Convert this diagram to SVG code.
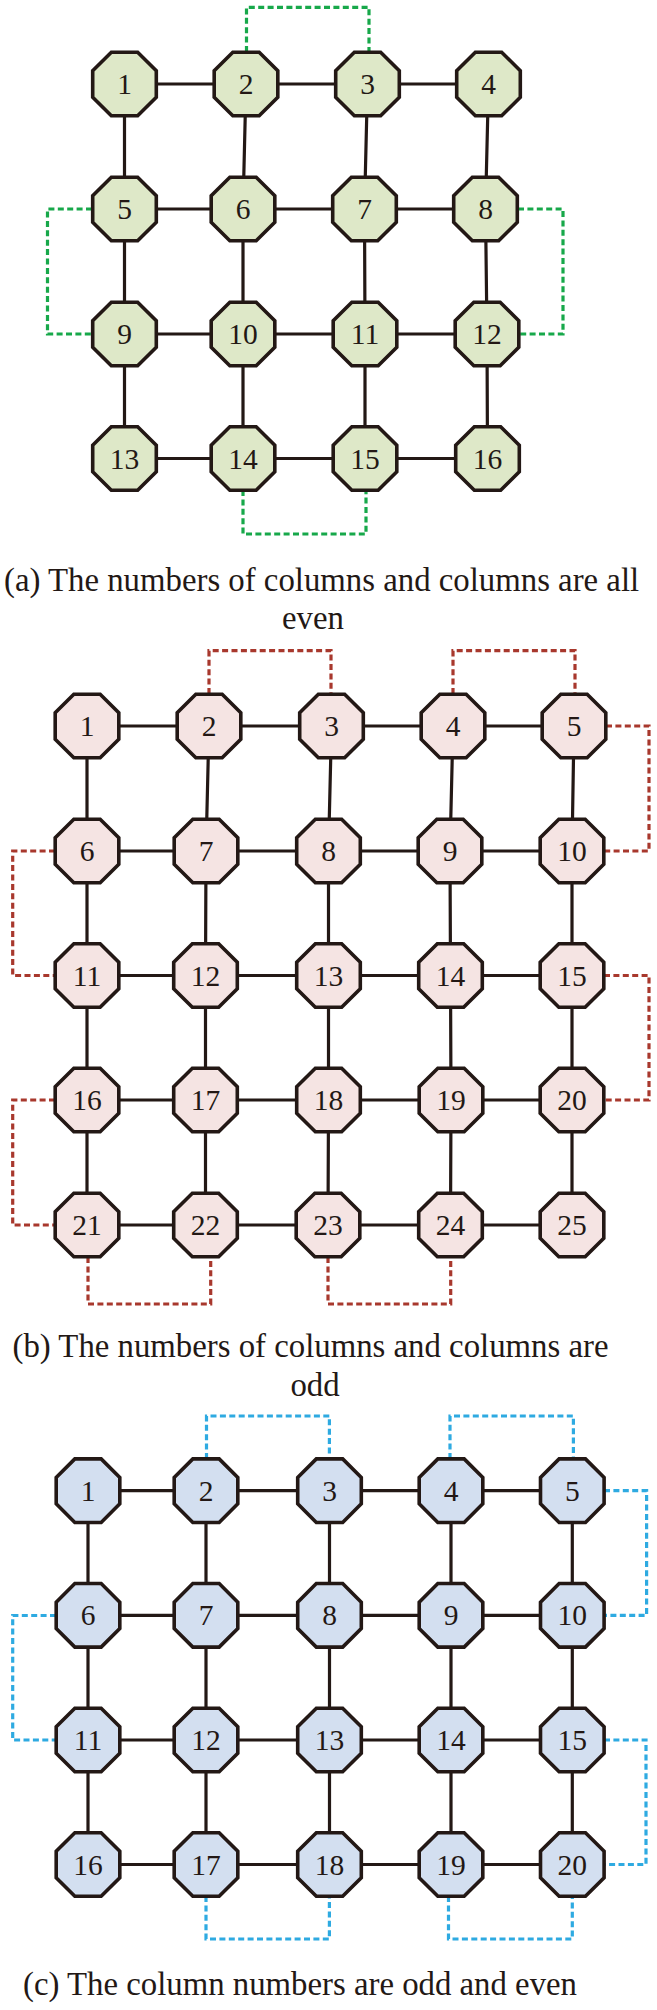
<svg xmlns="http://www.w3.org/2000/svg" xmlns:xlink="http://www.w3.org/1999/xlink" width="657" height="2010" viewBox="0 0 657 2010">
<style>
.n text{font-family:"Liberation Serif","Times New Roman",serif;font-size:29.5px;fill:#231815;text-anchor:middle}
.n use{stroke:#231815;stroke-width:3.6;stroke-linejoin:miter}
.ga use{fill:#dee8c8}
.gb use{fill:#f5e4e3}
.gc use{fill:#d3dff0}
.solid{fill:none;stroke:#231815;stroke-width:3.2}
.dash{fill:none;stroke-width:3.2;stroke-dasharray:6 3.4}
.dg{stroke:#17a84a}
.dr{stroke:#a8382d}
.db{stroke:#2eaae1}
.cap{font-family:"Liberation Serif","Times New Roman",serif;font-size:32.8px;fill:#231815}
</style>
<defs>
<polygon id="oct" points="-13.17,-31.8 13.17,-31.8 31.8,-13.17 31.8,13.17 13.17,31.8 -13.17,31.8 -31.8,13.17 -31.8,-13.17"/>
</defs>
<rect width="657" height="2010" fill="#ffffff"/>
<g id="connectors">
<g class="solid">
<polyline points="124.5,84 246,84 367.5,84 488.5,84"/>
<polyline points="124.5,209 243,209 364.5,209 485.5,209"/>
<polyline points="124.5,334 243,334 365,334 487,334"/>
<polyline points="124.5,458.5 243,458.5 365,458.5 487.5,458.5"/>
<polyline points="124.5,84 124.5,209 124.5,334 124.5,458.5"/>
<polyline points="246,84 243,209 243,334 243,458.5"/>
<polyline points="367.5,84 364.5,209 365,334 365,458.5"/>
<polyline points="488.5,84 485.5,209 487,334 487.5,458.5"/>
<polyline points="87,726 209,726 331.5,726 453,726 574,726"/>
<polyline points="87,851 206,851 328.5,851 450,851 572,851"/>
<polyline points="87,975.5 205.5,975.5 328.5,975.5 450.5,975.5 572,975.5"/>
<polyline points="87,1100 205.5,1100 328.5,1100 451,1100 572,1100"/>
<polyline points="87,1225 205.5,1225 328,1225 450.5,1225 572,1225"/>
<polyline points="87,726 87,851 87,975.5 87,1100 87,1225"/>
<polyline points="209,726 206,851 205.5,975.5 205.5,1100 205.5,1225"/>
<polyline points="331.5,726 328.5,851 328.5,975.5 328.5,1100 328,1225"/>
<polyline points="453,726 450,851 450.5,975.5 451,1100 450.5,1225"/>
<polyline points="574,726 572,851 572,975.5 572,1100 572,1225"/>
<polyline points="88,1490.7 206,1490.7 329.5,1490.7 451,1490.7 572.3,1490.7"/>
<polyline points="88,1615.3 206,1615.3 329.5,1615.3 451,1615.3 572.3,1615.3"/>
<polyline points="88,1740 206,1740 329.5,1740 451,1740 572.3,1740"/>
<polyline points="88,1864.5 206,1864.5 329.5,1864.5 451,1864.5 572.3,1864.5"/>
<polyline points="88,1490.7 88,1615.3 88,1740 88,1864.5"/>
<polyline points="206,1490.7 206,1615.3 206,1740 206,1864.5"/>
<polyline points="329.5,1490.7 329.5,1615.3 329.5,1740 329.5,1864.5"/>
<polyline points="451,1490.7 451,1615.3 451,1740 451,1864.5"/>
<polyline points="572.3,1490.7 572.3,1615.3 572.3,1740 572.3,1864.5"/>
</g>
<g class="dash dg">
<polyline points="246.5,52 246.5,7.3 369,7.3 369,52"/>
<polyline points="92,209 47.5,209 47.5,334 92,334"/>
<polyline points="518,209 563,209 563,334 519,334"/>
<polyline points="243,490 243,534 366,534 366,490"/>
</g>
<g class="dash dr">
<polyline points="209,694 209,650.7 331,650.7 331,694"/>
<polyline points="453,694 453,650.7 575,650.7 575,694"/>
<polyline points="606,726 649,726 649,851 604,851"/>
<polyline points="55,851 12.7,851 12.7,975.5 55,975.5"/>
<polyline points="604,975.5 649,975.5 649,1100 604,1100"/>
<polyline points="55,1100 12.7,1100 12.7,1225 55,1225"/>
<polyline points="88,1257 88,1304 210.7,1304 210.7,1257"/>
<polyline points="328,1257 328,1304 450.7,1304 450.7,1257"/>
</g>
<g class="dash db">
<polyline points="206.5,1459 206.5,1416 329.4,1416 329.4,1459"/>
<polyline points="450,1459 450,1416 573.4,1416 573.4,1459"/>
<polyline points="604,1490.7 646.6,1490.7 646.6,1615.3 604,1615.3"/>
<polyline points="56,1615.5 12.7,1615.5 12.7,1740 56,1740"/>
<polyline points="604,1740 646,1740 646,1864.5 604,1864.5"/>
<polyline points="206,1896 206,1939 329.4,1939 329.4,1896"/>
<polyline points="448.5,1896 448.5,1939 572.3,1939 572.3,1896"/>
</g>
</g>
<g id="panel-a" class="n ga">
<g id="a1"><use href="#oct" xlink:href="#oct" x="124.5" y="84"/><text x="124.5" y="94">1</text></g>
<g id="a2"><use href="#oct" xlink:href="#oct" x="246" y="84"/><text x="246" y="94">2</text></g>
<g id="a3"><use href="#oct" xlink:href="#oct" x="367.5" y="84"/><text x="367.5" y="94">3</text></g>
<g id="a4"><use href="#oct" xlink:href="#oct" x="488.5" y="84"/><text x="488.5" y="94">4</text></g>
<g id="a5"><use href="#oct" xlink:href="#oct" x="124.5" y="209"/><text x="124.5" y="219">5</text></g>
<g id="a6"><use href="#oct" xlink:href="#oct" x="243" y="209"/><text x="243" y="219">6</text></g>
<g id="a7"><use href="#oct" xlink:href="#oct" x="364.5" y="209"/><text x="364.5" y="219">7</text></g>
<g id="a8"><use href="#oct" xlink:href="#oct" x="485.5" y="209"/><text x="485.5" y="219">8</text></g>
<g id="a9"><use href="#oct" xlink:href="#oct" x="124.5" y="334"/><text x="124.5" y="344">9</text></g>
<g id="a10"><use href="#oct" xlink:href="#oct" x="243" y="334"/><text x="243" y="344">10</text></g>
<g id="a11"><use href="#oct" xlink:href="#oct" x="365" y="334"/><text x="365" y="344">11</text></g>
<g id="a12"><use href="#oct" xlink:href="#oct" x="487" y="334"/><text x="487" y="344">12</text></g>
<g id="a13"><use href="#oct" xlink:href="#oct" x="124.5" y="458.5"/><text x="124.5" y="468.5">13</text></g>
<g id="a14"><use href="#oct" xlink:href="#oct" x="243" y="458.5"/><text x="243" y="468.5">14</text></g>
<g id="a15"><use href="#oct" xlink:href="#oct" x="365" y="458.5"/><text x="365" y="468.5">15</text></g>
<g id="a16"><use href="#oct" xlink:href="#oct" x="487.5" y="458.5"/><text x="487.5" y="468.5">16</text></g>
</g>
<g id="panel-b" class="n gb">
<g id="b1"><use href="#oct" xlink:href="#oct" x="87" y="726"/><text x="87" y="736">1</text></g>
<g id="b2"><use href="#oct" xlink:href="#oct" x="209" y="726"/><text x="209" y="736">2</text></g>
<g id="b3"><use href="#oct" xlink:href="#oct" x="331.5" y="726"/><text x="331.5" y="736">3</text></g>
<g id="b4"><use href="#oct" xlink:href="#oct" x="453" y="726"/><text x="453" y="736">4</text></g>
<g id="b5"><use href="#oct" xlink:href="#oct" x="574" y="726"/><text x="574" y="736">5</text></g>
<g id="b6"><use href="#oct" xlink:href="#oct" x="87" y="851"/><text x="87" y="861">6</text></g>
<g id="b7"><use href="#oct" xlink:href="#oct" x="206" y="851"/><text x="206" y="861">7</text></g>
<g id="b8"><use href="#oct" xlink:href="#oct" x="328.5" y="851"/><text x="328.5" y="861">8</text></g>
<g id="b9"><use href="#oct" xlink:href="#oct" x="450" y="851"/><text x="450" y="861">9</text></g>
<g id="b10"><use href="#oct" xlink:href="#oct" x="572" y="851"/><text x="572" y="861">10</text></g>
<g id="b11"><use href="#oct" xlink:href="#oct" x="87" y="975.5"/><text x="87" y="985.5">11</text></g>
<g id="b12"><use href="#oct" xlink:href="#oct" x="205.5" y="975.5"/><text x="205.5" y="985.5">12</text></g>
<g id="b13"><use href="#oct" xlink:href="#oct" x="328.5" y="975.5"/><text x="328.5" y="985.5">13</text></g>
<g id="b14"><use href="#oct" xlink:href="#oct" x="450.5" y="975.5"/><text x="450.5" y="985.5">14</text></g>
<g id="b15"><use href="#oct" xlink:href="#oct" x="572" y="975.5"/><text x="572" y="985.5">15</text></g>
<g id="b16"><use href="#oct" xlink:href="#oct" x="87" y="1100"/><text x="87" y="1110">16</text></g>
<g id="b17"><use href="#oct" xlink:href="#oct" x="205.5" y="1100"/><text x="205.5" y="1110">17</text></g>
<g id="b18"><use href="#oct" xlink:href="#oct" x="328.5" y="1100"/><text x="328.5" y="1110">18</text></g>
<g id="b19"><use href="#oct" xlink:href="#oct" x="451" y="1100"/><text x="451" y="1110">19</text></g>
<g id="b20"><use href="#oct" xlink:href="#oct" x="572" y="1100"/><text x="572" y="1110">20</text></g>
<g id="b21"><use href="#oct" xlink:href="#oct" x="87" y="1225"/><text x="87" y="1235">21</text></g>
<g id="b22"><use href="#oct" xlink:href="#oct" x="205.5" y="1225"/><text x="205.5" y="1235">22</text></g>
<g id="b23"><use href="#oct" xlink:href="#oct" x="328" y="1225"/><text x="328" y="1235">23</text></g>
<g id="b24"><use href="#oct" xlink:href="#oct" x="450.5" y="1225"/><text x="450.5" y="1235">24</text></g>
<g id="b25"><use href="#oct" xlink:href="#oct" x="572" y="1225"/><text x="572" y="1235">25</text></g>
</g>
<g id="panel-c" class="n gc">
<g id="c1"><use href="#oct" xlink:href="#oct" x="88" y="1490.7"/><text x="88" y="1500.7">1</text></g>
<g id="c2"><use href="#oct" xlink:href="#oct" x="206" y="1490.7"/><text x="206" y="1500.7">2</text></g>
<g id="c3"><use href="#oct" xlink:href="#oct" x="329.5" y="1490.7"/><text x="329.5" y="1500.7">3</text></g>
<g id="c4"><use href="#oct" xlink:href="#oct" x="451" y="1490.7"/><text x="451" y="1500.7">4</text></g>
<g id="c5"><use href="#oct" xlink:href="#oct" x="572.3" y="1490.7"/><text x="572.3" y="1500.7">5</text></g>
<g id="c6"><use href="#oct" xlink:href="#oct" x="88" y="1615.3"/><text x="88" y="1625.3">6</text></g>
<g id="c7"><use href="#oct" xlink:href="#oct" x="206" y="1615.3"/><text x="206" y="1625.3">7</text></g>
<g id="c8"><use href="#oct" xlink:href="#oct" x="329.5" y="1615.3"/><text x="329.5" y="1625.3">8</text></g>
<g id="c9"><use href="#oct" xlink:href="#oct" x="451" y="1615.3"/><text x="451" y="1625.3">9</text></g>
<g id="c10"><use href="#oct" xlink:href="#oct" x="572.3" y="1615.3"/><text x="572.3" y="1625.3">10</text></g>
<g id="c11"><use href="#oct" xlink:href="#oct" x="88" y="1740"/><text x="88" y="1750">11</text></g>
<g id="c12"><use href="#oct" xlink:href="#oct" x="206" y="1740"/><text x="206" y="1750">12</text></g>
<g id="c13"><use href="#oct" xlink:href="#oct" x="329.5" y="1740"/><text x="329.5" y="1750">13</text></g>
<g id="c14"><use href="#oct" xlink:href="#oct" x="451" y="1740"/><text x="451" y="1750">14</text></g>
<g id="c15"><use href="#oct" xlink:href="#oct" x="572.3" y="1740"/><text x="572.3" y="1750">15</text></g>
<g id="c16"><use href="#oct" xlink:href="#oct" x="88" y="1864.5"/><text x="88" y="1874.5">16</text></g>
<g id="c17"><use href="#oct" xlink:href="#oct" x="206" y="1864.5"/><text x="206" y="1874.5">17</text></g>
<g id="c18"><use href="#oct" xlink:href="#oct" x="329.5" y="1864.5"/><text x="329.5" y="1874.5">18</text></g>
<g id="c19"><use href="#oct" xlink:href="#oct" x="451" y="1864.5"/><text x="451" y="1874.5">19</text></g>
<g id="c20"><use href="#oct" xlink:href="#oct" x="572.3" y="1864.5"/><text x="572.3" y="1874.5">20</text></g>
</g>
<g id="captions" class="cap">
<text x="4" y="591">(a) The numbers of columns and columns are all</text>
<text x="313" y="629" text-anchor="middle">even</text>
<text x="12.5" y="1357">(b) The numbers of columns and columns are</text>
<text x="315" y="1396" text-anchor="middle">odd</text>
<text x="23" y="1995">(c) The column numbers are odd and even</text>
</g>
</svg>
